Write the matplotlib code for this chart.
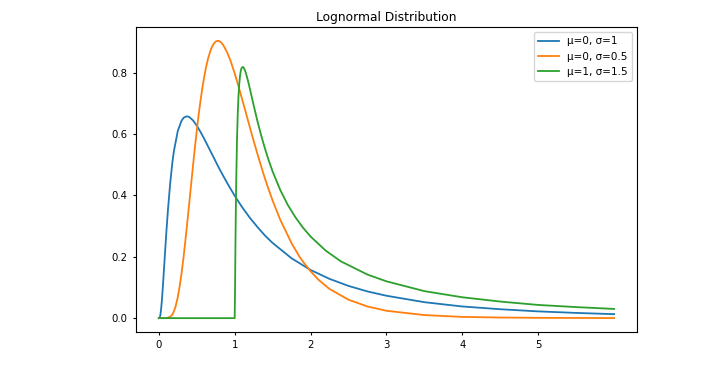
import matplotlib
matplotlib.use("Agg")
import matplotlib.pyplot as plt

# values
x_a = [0.0, 0.01, 0.02, 0.03, 0.04, 0.05, 0.06, 0.07, 0.08, 0.1, 0.12, 0.15, 0.18, 0.2,
       0.25, 0.3, 0.33, 0.368, 0.4, 0.45, 0.5, 0.55, 0.6, 0.7, 0.8, 0.9, 1.0, 1.1, 1.2,
       1.3, 1.4, 1.5, 1.75, 2.0, 2.25, 2.5, 2.75, 3.0, 3.5, 4.0, 4.5, 5.0, 5.5, 6.0]
y_a = [0.0, 0.001, 0.009, 0.028, 0.056, 0.090, 0.127, 0.166, 0.205, 0.282, 0.351, 0.440,
       0.510, 0.546, 0.610, 0.644, 0.654, 0.658, 0.656, 0.645, 0.628, 0.607, 0.584,
       0.535, 0.486, 0.441, 0.399, 0.361, 0.327, 0.297, 0.269, 0.245, 0.195, 0.157,
       0.128, 0.105, 0.087, 0.073, 0.052, 0.038, 0.029, 0.022, 0.017, 0.013]

x_b = [0.0, 0.1, 0.15, 0.18, 0.2, 0.22, 0.25, 0.275, 0.3, 0.325, 0.35, 0.375, 0.4,
       0.425, 0.45, 0.475, 0.5, 0.525, 0.55, 0.575, 0.6, 0.625, 0.65, 0.675, 0.7,
       0.725, 0.75, 0.775, 0.8, 0.825, 0.85, 0.9, 0.95, 1.0, 1.05, 1.1, 1.15, 1.2,
       1.25, 1.3, 1.35, 1.4, 1.45, 1.5, 1.6, 1.75, 1.85, 1.9, 2.0, 2.1, 2.25, 2.5,
       2.75, 3.0, 3.5, 4.0, 4.5, 5.0, 6.0]
y_b = [0.0, 0.0002, 0.004, 0.012, 0.023, 0.037, 0.068, 0.104, 0.147, 0.196, 0.252,
       0.311, 0.372, 0.434, 0.495, 0.555, 0.610, 0.663, 0.710, 0.752, 0.789, 0.821,
       0.847, 0.868, 0.884, 0.895, 0.902, 0.904, 0.903, 0.898, 0.890, 0.867, 0.836,
       0.798, 0.756, 0.712, 0.667, 0.622, 0.578, 0.535, 0.494, 0.454, 0.418, 0.383,
       0.321, 0.244, 0.202, 0.184, 0.153, 0.126, 0.095, 0.060, 0.038, 0.024, 0.010,
       0.004, 0.002, 0.001, 0.0002]

x_c = [0.0, 1.0, 1.005, 1.01, 1.015, 1.02, 1.03, 1.04, 1.05, 1.06, 1.07, 1.08, 1.09,
       1.105, 1.115, 1.13, 1.145, 1.16, 1.18, 1.2, 1.25, 1.3, 1.35, 1.4, 1.45, 1.5,
       1.6, 1.7, 1.8, 1.9, 2.0, 2.2, 2.4, 2.75, 3.0, 3.5, 4.0, 4.5, 5.0, 5.5, 6.0]
y_c = [0.0, 0.0, 0.104, 0.239, 0.352, 0.443, 0.577, 0.665, 0.724, 0.763, 0.789, 0.806,
       0.815, 0.819, 0.818, 0.811, 0.801, 0.788, 0.769, 0.748, 0.694, 0.642, 0.595,
       0.552, 0.513, 0.478, 0.418, 0.369, 0.329, 0.295, 0.266, 0.220, 0.185, 0.142,
       0.120, 0.088, 0.068, 0.054, 0.043, 0.036, 0.030]

labels = ["μ=0, σ=1", "μ=0, σ=0.5", "μ=1, σ=1.5"]

plt.rcParams["font.size"] = 7.3
plt.rcParams["xtick.major.size"] = 2.5
plt.rcParams["ytick.major.size"] = 2.5

fig = plt.figure(figsize=(7.03, 3.70), dpi=100)
ax = fig.add_axes([0.1935, 0.1027, 0.7125, 0.8243])

ax.plot(x_a, y_a, lw=1.3, label=labels[0])
ax.plot(x_b, y_b, lw=1.3, label=labels[1])
ax.plot(x_c, y_c, lw=1.3, label=labels[2])

ax.set_title("Lognormal Distribution", fontsize=8.8, pad=4)
ax.set_xticks([0, 1, 2, 3, 4, 5])
ax.set_yticks([0.0, 0.2, 0.4, 0.6, 0.8])
ax.legend(loc="upper right", fontsize=7.5)

fig.savefig("out.png", dpi=100)
